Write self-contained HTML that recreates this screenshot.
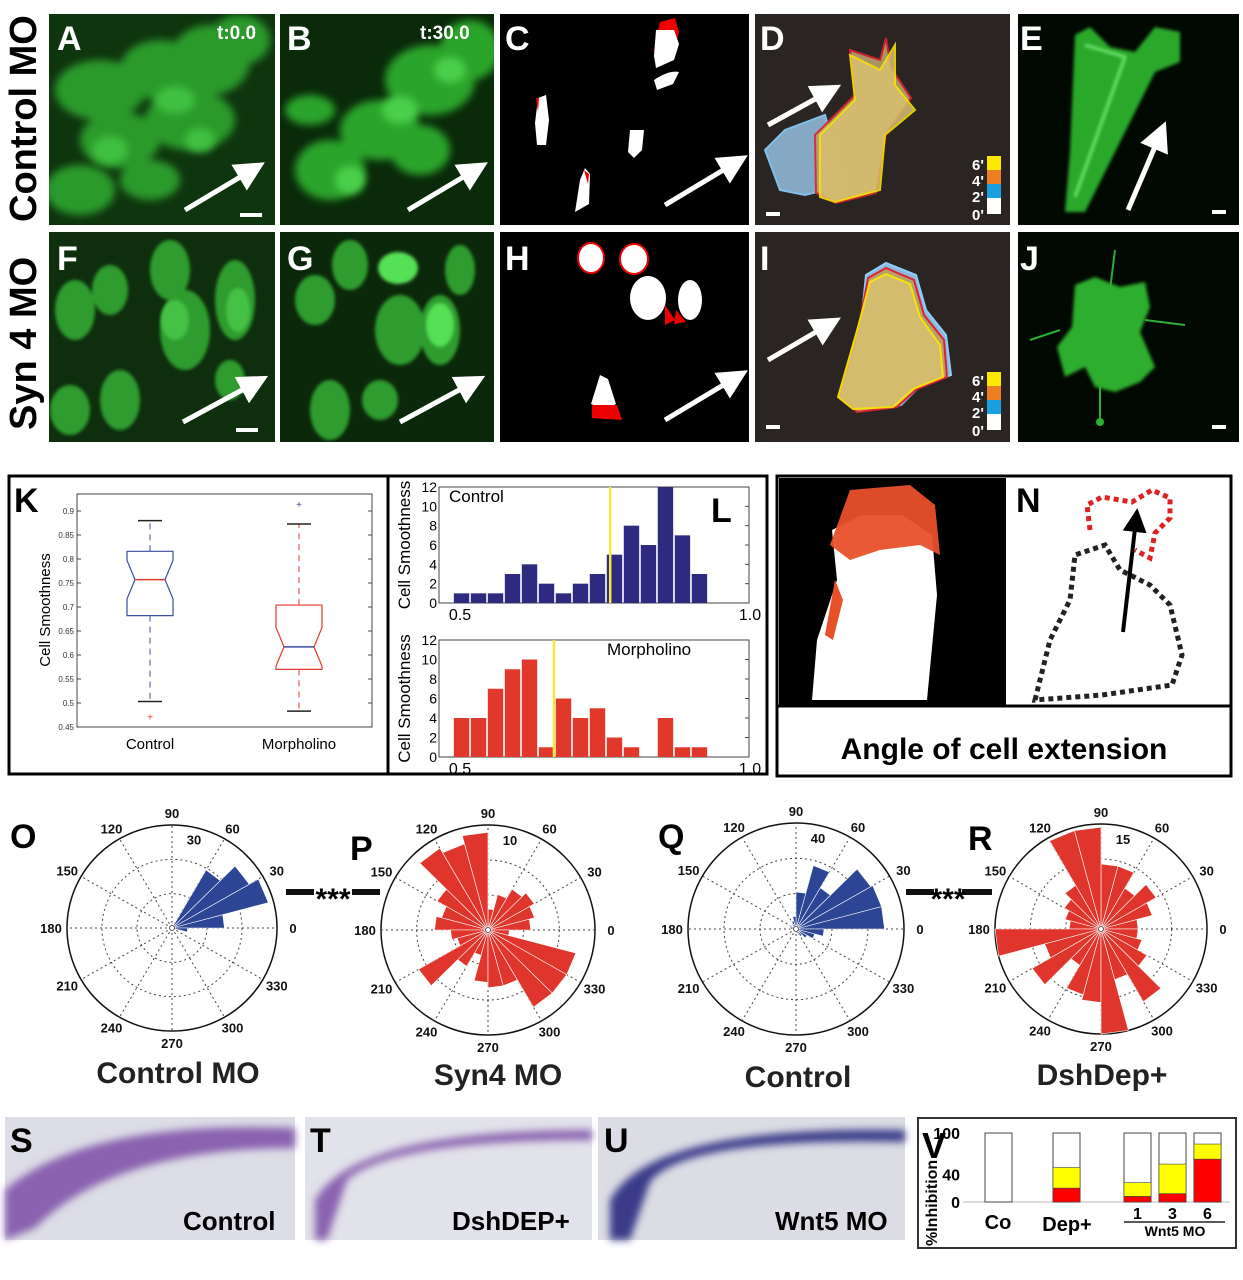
<!DOCTYPE html>
<html><head><meta charset="utf-8"><style>
html,body{margin:0;padding:0;background:#fff;}
svg{display:block;font-family:"Liberation Sans",sans-serif;}
.lbl{font-weight:bold;font-size:34px;}
.pt{font-size:13px;font-weight:bold;fill:#111;}
</style></head><body>
<svg id="fig" width="1243" height="1280" viewBox="0 0 1243 1280" xmlns="http://www.w3.org/2000/svg">
<defs>
<filter id="blur4"><feGaussianBlur stdDeviation="4"/></filter>
<filter id="blur2"><feGaussianBlur stdDeviation="1.5"/></filter>
<marker id="ah" markerWidth="6" markerHeight="6" refX="3" refY="3" orient="auto" markerUnits="strokeWidth"><path d="M0,0 L6,3 L0,6 z" fill="#fff"/></marker>
<marker id="ahb" markerWidth="6" markerHeight="6" refX="3" refY="3" orient="auto" markerUnits="strokeWidth"><path d="M0,0 L6,3 L0,6 z" fill="#000"/></marker>
<clipPath id="cA"><rect x="49" y="14" width="226" height="211"/></clipPath>
<clipPath id="cB"><rect x="280" y="14" width="214" height="211"/></clipPath>
<clipPath id="cF"><rect x="49" y="232" width="226" height="210"/></clipPath>
<clipPath id="cG"><rect x="280" y="232" width="214" height="210"/></clipPath>
</defs>
<rect width="1243" height="1280" fill="#fff"/>

<text transform="translate(36,222) rotate(-90)" font-size="38" font-weight="bold">Control MO</text>
<text transform="translate(36,430) rotate(-90)" font-size="38" font-weight="bold">Syn 4 MO</text>

<g clip-path="url(#cA)">
<rect x="49" y="14" width="226" height="211" fill="#0f350f"/>
<g filter="url(#blur4)" fill="#2a9a2a">
<ellipse cx="100" cy="90" rx="45" ry="30"/><ellipse cx="160" cy="70" rx="40" ry="30"/><ellipse cx="210" cy="60" rx="40" ry="35"/>
<ellipse cx="120" cy="140" rx="40" ry="28"/><ellipse cx="190" cy="120" rx="45" ry="30"/><ellipse cx="80" cy="190" rx="35" ry="25"/>
<ellipse cx="150" cy="180" rx="30" ry="20"/><ellipse cx="240" cy="40" rx="30" ry="25"/></g>
<g filter="url(#blur4)" fill="#40c040"><ellipse cx="110" cy="150" rx="18" ry="14"/><ellipse cx="175" cy="100" rx="20" ry="14"/><ellipse cx="200" cy="140" rx="15" ry="12"/></g>
</g>
<g clip-path="url(#cB)">
<rect x="280" y="14" width="214" height="211" fill="#0a2a0a"/>
<g filter="url(#blur4)" fill="#2ca42c">
<ellipse cx="330" cy="170" rx="35" ry="30"/><ellipse cx="380" cy="130" rx="40" ry="30"/><ellipse cx="430" cy="80" rx="45" ry="35"/>
<ellipse cx="470" cy="50" rx="30" ry="30"/><ellipse cx="310" cy="110" rx="25" ry="15"/><ellipse cx="420" cy="150" rx="30" ry="25"/></g>
<g filter="url(#blur4)" fill="#4cd04c"><ellipse cx="350" cy="180" rx="15" ry="14"/><ellipse cx="400" cy="110" rx="18" ry="14"/><ellipse cx="450" cy="70" rx="16" ry="13"/></g>
</g>
<g>
<rect x="500" y="14" width="249" height="211" fill="#000"/>
<path d="M660,22 l15,-4 l4,14 l-5,20 l-17,8 l-3,-10 z" fill="#e00"/>
<path d="M656,30 l18,0 l5,14 l-5,16 l-18,8 l-2,-12 z" fill="#fff"/>
<path d="M654,80 q15,-10 25,-8 l-6,12 l-16,6 z" fill="#fff"/>
<path d="M538,98 l8,-3 l3,25 l-3,25 l-9,0 l-2,-22 z" fill="#fff"/>
<path d="M536,98 l3,0 l-1,14 z" fill="#e00"/>
<path d="M630,130 l14,0 l-2,20 l-8,8 l-6,-6 z" fill="#fff"/>
<path d="M580,180 l5,-12 l5,6 l-1,30 l-14,8 z" fill="#fff"/>
<path d="M584,170 l5,4 l-1,10 z" fill="#e00"/>
<line x1="665" y1="205" x2="735" y2="163" stroke="#fff" stroke-width="5" marker-end="url(#ah)"/>
</g>
<g>
<rect x="755" y="14" width="255" height="211" fill="#2a2522"/>
<path d="M765,150 l20,-20 l40,-15 l20,70 l-40,10 l-25,-5 z" fill="#8fb8d6" stroke="#8ad0ff" stroke-width="2" opacity="0.9"/>
<path d="M815,135 l40,-40 l-5,-45 l30,10 l6,-22 l5,30 l20,30 l-25,35 l-10,60 l-40,10 l-20,-10 z" fill="#b7a16a" stroke="#d23" stroke-width="2" opacity="0.9"/>
<path d="M820,135 l35,-35 l-5,-45 l30,15 l15,-25 l0,40 l20,25 l-30,25 l-5,55 l-45,12 l-15,-5 z" fill="#d8c070" stroke="#ffe800" stroke-width="2" opacity="0.85"/>
<line x1="768" y1="125" x2="828" y2="92" stroke="#fff" stroke-width="5" marker-end="url(#ah)"/>
<rect x="766" y="212" width="14" height="4" fill="#fff"/>
<rect x="987" y="156" width="14" height="14" fill="#ffe800"/><rect x="987" y="170" width="14" height="14" fill="#ec7f22"/><rect x="987" y="184" width="14" height="14" fill="#1aa0e0"/><rect x="987" y="198" width="14" height="16" fill="#fff"/>
<g fill="#fff" font-size="15" font-weight="bold"><text x="972" y="170">6'</text><text x="972" y="186">4'</text><text x="972" y="202">2'</text><text x="972" y="220">0'</text></g>
</g>
<g>
<rect x="1018" y="14" width="221" height="211" fill="#020802"/>
<path d="M1075,35 l15,-8 l20,20 l25,5 l20,-25 l25,5 l0,30 l-25,10 l-30,60 l-40,80 l-20,0 l5,-60 z" fill="#2ba82b" filter="url(#blur2)"/>
<path d="M1085,45 l40,12 l-50,140" stroke="#6fe86f" stroke-width="3" fill="none" filter="url(#blur2)"/>
<line x1="1128" y1="210" x2="1160" y2="135" stroke="#fff" stroke-width="5" marker-end="url(#ah)"/>
<rect x="1212" y="210" width="14" height="4" fill="#fff"/>
</g>
<g clip-path="url(#cF)">
<rect x="49" y="232" width="226" height="210" fill="#0e2e0e"/>
<g filter="url(#blur2)" fill="#2f9c2f">
<ellipse cx="75" cy="310" rx="20" ry="30"/><ellipse cx="110" cy="290" rx="18" ry="25"/><ellipse cx="170" cy="270" rx="20" ry="30"/>
<ellipse cx="185" cy="330" rx="25" ry="40"/><ellipse cx="235" cy="300" rx="20" ry="40"/><ellipse cx="120" cy="400" rx="20" ry="30"/>
<ellipse cx="70" cy="410" rx="20" ry="25"/><ellipse cx="230" cy="380" rx="15" ry="20"/></g>
<g fill="#45c245" filter="url(#blur2)"><ellipse cx="175" cy="320" rx="14" ry="20"/><ellipse cx="238" cy="310" rx="12" ry="22"/></g>
</g>
<g clip-path="url(#cG)">
<rect x="280" y="232" width="214" height="210" fill="#0b280b"/>
<g filter="url(#blur2)" fill="#2f9c2f">
<ellipse cx="315" cy="300" rx="20" ry="25"/><ellipse cx="350" cy="265" rx="18" ry="25"/><ellipse cx="400" cy="330" rx="25" ry="35"/>
<ellipse cx="440" cy="330" rx="20" ry="35"/><ellipse cx="330" cy="410" rx="20" ry="30"/><ellipse cx="380" cy="400" rx="18" ry="20"/>
<ellipse cx="460" cy="270" rx="15" ry="25"/></g>
<g fill="#55e055" filter="url(#blur2)"><ellipse cx="398" cy="268" rx="20" ry="16"/><ellipse cx="440" cy="325" rx="14" ry="22"/></g>
</g>
<g>
<rect x="500" y="232" width="249" height="210" fill="#000"/>
<ellipse cx="591" cy="258" rx="13" ry="15" fill="#fff" stroke="#e00" stroke-width="2"/>
<ellipse cx="634" cy="259" rx="14" ry="15" fill="#fff" stroke="#e00" stroke-width="2"/>
<ellipse cx="648" cy="298" rx="18" ry="22" fill="#fff"/><path d="M665,305 l10,15 l-10,5 z" fill="#e00"/>
<ellipse cx="690" cy="300" rx="12" ry="20" fill="#fff"/><path d="M676,310 l10,12 l-12,2 z" fill="#e00"/>
<path d="M600,375 l8,4 l8,25 l-10,6 l-15,-6 z" fill="#fff"/><path d="M592,405 l25,0 l5,15 l-30,-2 z" fill="#e00"/>
<line x1="665" y1="420" x2="735" y2="378" stroke="#fff" stroke-width="5" marker-end="url(#ah)"/>
</g>
<g>
<rect x="755" y="232" width="255" height="210" fill="#2a2522"/>
<path d="M866,275 l20,-12 l30,12 l10,35 l20,25 l5,40 l-30,10 l-20,20 l-40,5 l-20,-15 l20,-70 z" fill="#8fb8d6" stroke="#8ad0ff" stroke-width="2"/>
<path d="M868,278 l18,-10 l28,12 l10,35 l20,25 l3,37 l-30,12 l-20,18 l-40,5 l-18,-15 l20,-70 z" fill="#b7a16a" stroke="#d23" stroke-width="2"/>
<path d="M870,282 l16,-8 l24,10 l10,33 l20,28 l3,32 l-30,12 l-20,18 l-40,2 l-15,-12 l20,-70 z" fill="#d8c070" stroke="#ffe800" stroke-width="2" opacity="0.9"/>
<line x1="768" y1="360" x2="828" y2="325" stroke="#fff" stroke-width="5" marker-end="url(#ah)"/>
<rect x="766" y="425" width="14" height="4" fill="#fff"/>
<rect x="987" y="372" width="14" height="14" fill="#ffe800"/><rect x="987" y="386" width="14" height="14" fill="#ec7f22"/><rect x="987" y="400" width="14" height="14" fill="#1aa0e0"/><rect x="987" y="414" width="14" height="16" fill="#fff"/>
<g fill="#fff" font-size="15" font-weight="bold"><text x="972" y="386">6'</text><text x="972" y="402">4'</text><text x="972" y="418">2'</text><text x="972" y="436">0'</text></g>
</g>
<g>
<rect x="1018" y="232" width="221" height="210" fill="#020802"/>
<path d="M1075,285 l20,-8 l25,10 l25,-5 l5,25 l-10,25 l15,35 l-15,15 l-25,10 l-20,-5 l-10,-20 l-20,10 l-8,-30 l15,-20 z" fill="#2eae2e" filter="url(#blur2)"/>
<path d="M1060,330 l-30,10 M1145,320 l40,5 M1110,290 l5,-40 M1100,380 l0,40" stroke="#2eae2e" stroke-width="2"/>
<circle cx="1100" cy="422" r="4" fill="#2eae2e"/>
<rect x="1212" y="425" width="14" height="4" fill="#fff"/>
</g>
<g stroke="#fff" stroke-width="5">
<line x1="185" y1="210" x2="252" y2="170" marker-end="url(#ah)"/>
<line x1="408" y1="210" x2="475" y2="170" marker-end="url(#ah)"/>
<line x1="183" y1="422" x2="255" y2="383" marker-end="url(#ah)"/>
<line x1="400" y1="422" x2="472" y2="383" marker-end="url(#ah)"/>
</g>
<g fill="#fff"><rect x="240" y="213" width="22" height="4"/><rect x="236" y="428" width="22" height="4"/></g>
<g class="lbl" fill="#fff">
<text x="57" y="50">A</text>
<text x="287" y="50">B</text>
<text x="505" y="50">C</text>
<text x="760" y="50">D</text>
<text x="1020" y="50">E</text>
<text x="57" y="270">F</text>
<text x="287" y="270">G</text>
<text x="505" y="270">H</text>
<text x="760" y="270">I</text>
<text x="1020" y="270">J</text>
</g>
<text x="217" y="39" fill="#fff" font-size="19" font-weight="bold">t:0.0</text>
<text x="420" y="39" fill="#fff" font-size="19" font-weight="bold">t:30.0</text>

<rect x="9" y="476" width="758" height="298" fill="none" stroke="#000" stroke-width="3"/>
<line x1="388" y1="476" x2="388" y2="774" stroke="#000" stroke-width="3"/>
<text class="lbl" x="14" y="512" fill="#000">K</text>
<text class="lbl" x="711" y="522" fill="#000">L</text>
<g id="boxplot"></g>
<g id="hist"></g>

<g>
<rect x="777" y="476" width="454" height="300" fill="#fff" stroke="#000" stroke-width="3"/>
<rect x="779" y="478" width="227" height="227" fill="#000"/>
<path d="M812,700 l5,-60 l20,-60 l-5,-50 l30,-15 l40,0 l30,20 l5,60 l-10,105 z" fill="#fff"/>
<path d="M830,545 l20,-55 l60,-5 l25,20 l5,50 l-20,-10 l-40,5 l-30,10 z" fill="#e8502a" opacity="0.95"/>
<path d="M835,580 l8,20 l-10,40 l-8,-5 z" fill="#e8502a"/>
<rect x="1008" y="478" width="221" height="227" fill="#fff"/>
<line x1="777" y1="706" x2="1231" y2="706" stroke="#000" stroke-width="3"/>
<path d="M1035,700 l15,-60 l20,-40 l5,-45 l30,-10 l15,25 l30,15 l20,20 l12,50 l-10,30 l-70,10 z" fill="none" stroke="#222" stroke-width="5" stroke-dasharray="5,4"/>
<path d="M1090,530 l-3,-25 l15,-8 l30,5 l20,-12 l18,8 l0,20 l-15,15 l-5,25 l-15,-8" fill="none" stroke="#d22" stroke-width="5" stroke-dasharray="5,4"/>
<line x1="1123" y1="632" x2="1136" y2="520" stroke="#000" stroke-width="4" marker-end="url(#ahb)"/>
<text class="lbl" x="782" y="512" fill="#000">M</text>
<text class="lbl" x="1016" y="512" fill="#000">N</text>
<text x="1004" y="759" text-anchor="middle" font-size="30" font-weight="bold">Angle of cell extension</text>
</g>

<g id="polar"></g>
<g class="lbl" fill="#000">
<text x="10" y="848">O</text>
<text x="350" y="860">P</text>
<text x="658" y="848">Q</text>
<text x="968" y="850">R</text>
</g>
<g font-size="30" font-weight="bold" text-anchor="middle" fill="#222">
<text x="178" y="1083">Control MO</text>
<text x="498" y="1085">Syn4 MO</text>
<text x="798" y="1087">Control</text>
<text x="1102" y="1085">DshDep+</text>
</g>
<g>
<rect x="286" y="889" width="28" height="6" fill="#111"/><rect x="352" y="889" width="28" height="6" fill="#111"/>
<text x="333" y="909" text-anchor="middle" font-size="30" font-weight="bold">***</text>
<rect x="906" y="889" width="28" height="6" fill="#111"/><rect x="962" y="889" width="30" height="6" fill="#111"/>
<text x="948" y="909" text-anchor="middle" font-size="30" font-weight="bold">***</text>
</g>

<g>
<rect x="5" y="1117" width="290" height="123" fill="#dcdde6"/>
<path d="M5,1190 q80,-70 290,-62 l0,20 q-180,0 -260,80 l-30,12 z" fill="#8a62b0" filter="url(#blur4)"/>
<text class="lbl" x="10" y="1152" fill="#000">S</text>
<text x="183" y="1230" font-size="26" font-weight="bold">Control</text>
</g>
<g>
<rect x="305" y="1117" width="287" height="123" fill="#e2e2ea"/>
<path d="M315,1200 q40,-70 277,-70 l0,10 q-200,0 -245,40 l-20,60 l-12,0 z" fill="#8a62b0" filter="url(#blur4)"/>
<text class="lbl" x="310" y="1152" fill="#000">T</text>
<text x="452" y="1230" font-size="26" font-weight="bold">DshDEP+</text>
</g>
<g>
<rect x="598" y="1117" width="307" height="123" fill="#dcdde4"/>
<path d="M610,1200 q40,-75 295,-70 l0,12 q-220,-5 -255,40 l-20,58 l-20,0 z" fill="#3a3a8a" filter="url(#blur4)"/>
<text class="lbl" x="604" y="1152" fill="#000">U</text>
<text x="775" y="1230" font-size="26" font-weight="bold">Wnt5 MO</text>
</g>

<rect x="918" y="1118" width="318" height="130" fill="#fff" stroke="#333" stroke-width="2"/>
<g id="vchart"></g>
</svg>
<script>
var NS="http://www.w3.org/2000/svg";
function mk(p,tag,at,txt){var e=document.createElementNS(NS,tag);for(var k in at)e.setAttribute(k,at[k]);if(txt!==undefined)e.textContent=txt;p.appendChild(e);return e;}

/* ---------- K boxplot ---------- */
var boxGroups=["Control","Morpholino"];
var boxLow=[0.503,0.483];
var boxQ1=[0.682,0.570];
var boxMed=[0.757,0.617];
var boxQ3=[0.816,0.704];
var boxHigh=[0.880,0.873];
var boxOutlier=[0.470,0.912];
var boxTicks=[0.45,0.5,0.55,0.6,0.65,0.7,0.75,0.8,0.85,0.9];

/* ---------- L histograms ---------- */
var histControl=[1,1,1,3,4,2,1,2,3,5,8,6,12,7,3];
var histMorpholino=[4,4,7,9,10,1,6,4,5,2,1,0,4,1,1];
var histBinStart=0.488;
var histBinWidth=0.0293;
var histMeanControl=0.759;
var histMeanMorph=0.662;
var histYTicks=[0,2,4,6,8,10,12];

/* ---------- Polar rose plots (15° bins from 0°) ---------- */
var roseO=[0.50,0.95,0.85,0.65,0,0,0,0,0,0,0,0,0,0,0,0,0,0,0,0,0,0,0,0.15];
var roseP=[0.40,0.45,0.50,0.45,0.35,0.20,0.93,0.85,0.90,0.55,0.45,0.50,0.35,0.30,0.75,0.40,0.25,0.50,0.55,0.55,0.85,0.85,0.85,0.20];
var roseQ=[0.82,0.82,0.80,0.45,0.62,0.35,0.12,0.08,0.05,0.04,0.06,0.05,0.03,0.03,0.02,0.02,0.02,0.03,0.04,0.05,0.08,0.12,0.18,0.26];
var roseR=[0.35,0.50,0.60,0.45,0.62,0.62,0.97,0.97,0.48,0.40,0.35,0.30,1.00,0.55,0.75,0.40,0.65,0.70,1.00,0.50,0.80,0.50,0.40,0.35];
var roseRingLabels=["30","10","40","15"];
var angleLabels=["0","30","60","90","120","150","180","210","240","270","300","330"];

/* ---------- V stacked bars ---------- */
var vCategories=["Co","Dep+","1","3","6"];
var vRed=[0,20,8,12,62];
var vYellow=[0,30,20,43,22];
var vYTicks=[0,40,100];

(function(){
 var g=document.getElementById("boxplot");
 var x0=77,x1=372,yTop=494,yBot=727;
 function ky(v){return 727-(v-0.45)*480;}
 function kx(i){return 150+i*149;}
 mk(g,"rect",{x:x0,y:yTop,width:x1-x0,height:yBot-yTop,fill:"none",stroke:"#444","stroke-width":1});
 boxTicks.forEach(function(t){var y=ky(t);mk(g,"line",{x1:x0,y1:y,x2:x0+4,y2:y,stroke:"#444"});mk(g,"line",{x1:x1,y1:y,x2:x1-4,y2:y,stroke:"#444"});
  var tx=mk(g,"text",{x:x0-3,y:y+3,"font-size":8,"text-anchor":"end",fill:"#333"},String(t));
  });
 var yt=mk(g,"text",{transform:"translate(50,610) rotate(-90)","font-size":15,"text-anchor":"middle"},"Cell Smoothness");
 
 var cols=["#3a4ea0","#e23a2a"],medc=["#e23a2a","#3a4ea0"];
 boxGroups.forEach(function(name,i){
  var cx=kx(i),h=23,n=8;
  var gg=mk(g,"g",{});
  
  mk(gg,"line",{x1:cx,y1:ky(boxQ3[i]),x2:cx,y2:ky(boxHigh[i]),stroke:cols[i],"stroke-dasharray":"6,5"});
  mk(gg,"line",{x1:cx,y1:ky(boxQ1[i]),x2:cx,y2:ky(boxLow[i]),stroke:cols[i],"stroke-dasharray":"6,5"});
  mk(gg,"line",{x1:cx-12,y1:ky(boxHigh[i]),x2:cx+12,y2:ky(boxHigh[i]),stroke:"#222","stroke-width":1.5});
  mk(gg,"line",{x1:cx-12,y1:ky(boxLow[i]),x2:cx+12,y2:ky(boxLow[i]),stroke:"#222","stroke-width":1.5});
  var nt=(boxQ3[i]-boxQ1[i])*0.3;
  var pts=[[cx-h,ky(boxQ1[i])],[cx-h,ky(boxMed[i]-nt)],[cx-h+n,ky(boxMed[i])],[cx-h,ky(boxMed[i]+nt)],[cx-h,ky(boxQ3[i])],[cx+h,ky(boxQ3[i])],[cx+h,ky(boxMed[i]+nt)],[cx+h-n,ky(boxMed[i])],[cx+h,ky(boxMed[i]-nt)],[cx+h,ky(boxQ1[i])]];
  mk(gg,"polygon",{points:pts.map(function(p){return p.join(",");}).join(" "),fill:"none",stroke:cols[i],"stroke-width":1.2});
  mk(gg,"line",{x1:cx-h+n,y1:ky(boxMed[i]),x2:cx+h-n,y2:ky(boxMed[i]),stroke:medc[i],"stroke-width":1.5});
  mk(gg,"text",{x:cx,y:ky(boxOutlier[i])+3,"font-size":10,"text-anchor":"middle",fill:medc[i]},"+");
  var xl=mk(g,"text",{x:cx,y:749,"font-size":15,"text-anchor":"middle"},name);
  
 });
})();

(function(){
 var g=document.getElementById("hist");
 function hx(v){return 460+(v-0.5)*580;}
 function panel(vals,yTop,yBot,color,mean,title,tx,name){
  var gg=mk(g,"g",{});
  
  function hy(v){return yBot-v/12*(yBot-yTop);}
  mk(gg,"rect",{x:439,y:yTop,width:310,height:yBot-yTop,fill:"none",stroke:"#444"});
  histYTicks.forEach(function(t){mk(gg,"text",{x:437,y:hy(t)+5,"font-size":14,"text-anchor":"end"},String(t));mk(gg,"line",{x1:749,y1:hy(t),x2:745,y2:hy(t),stroke:"#444"});});
  vals.forEach(function(v,i){if(!v)return;var a=hx(histBinStart+i*histBinWidth),b=hx(histBinStart+(i+1)*histBinWidth);
   var r=mk(gg,"rect",{x:a+0.8,y:hy(v),width:b-a-1.6,height:hy(0)-hy(v),fill:color});
   });
  mk(gg,"line",{x1:hx(mean),y1:yTop,x2:hx(mean),y2:yBot,stroke:"#f4e83a","stroke-width":2.5});
  mk(gg,"text",{x:tx,y:yTop+15,"font-size":17},title);
  mk(gg,"text",{x:hx(0.5),y:yBot+17,"font-size":16,"text-anchor":"middle"},"0.5");
  mk(gg,"text",{x:hx(1.0),y:yBot+17,"font-size":16,"text-anchor":"middle"},"1.0");
  mk(gg,"text",{transform:"translate(410,"+((yTop+yBot)/2)+") rotate(-90)","font-size":17,"text-anchor":"middle"},"Cell Smoothness");
 }
 panel(histControl,487,603,"#2e2a80",histMeanControl,"Control",449,"histogram-control");
 panel(histMorpholino,640,757,"#e2382c",histMeanMorph,"Morpholino",607,"histogram-morpholino");
})();

(function(){
 var g=document.getElementById("polar");
 function rose(cx,cy,rx,ry,vals,color,ringLbl,name){
  var gg=mk(g,"g",{});
  
  mk(gg,"ellipse",{cx:cx,cy:cy,rx:rx,ry:ry,fill:"#fff",stroke:"#111","stroke-width":1.5});
  [1/3,2/3].forEach(function(f){mk(gg,"ellipse",{cx:cx,cy:cy,rx:rx*f,ry:ry*f,fill:"none",stroke:"#444","stroke-dasharray":"2,3"});});
  for(var k=0;k<12;k++){var a=k*30*Math.PI/180;mk(gg,"line",{x1:cx,y1:cy,x2:cx+rx*Math.cos(a),y2:cy-ry*Math.sin(a),stroke:"#444","stroke-dasharray":"2,3"});}
  vals.forEach(function(v,i){if(v<=0)return;var a0=i*15*Math.PI/180,a1=(i+1)*15*Math.PI/180;
   var p=mk(gg,"path",{d:"M"+cx+","+cy+" L"+(cx+rx*v*Math.cos(a0))+","+(cy-ry*v*Math.sin(a0))+" L"+(cx+rx*v*Math.cos(a1))+","+(cy-ry*v*Math.sin(a1))+" Z",fill:color,stroke:"#fff","stroke-width":0.6});
   });
  mk(gg,"circle",{cx:cx,cy:cy,r:2.5,fill:"#fff",stroke:"#333","stroke-width":0.8});
  angleLabels.forEach(function(t,k){var a=k*30*Math.PI/180;
   var lt=mk(gg,"text",{x:cx+(rx+16)*Math.cos(a),y:cy-(ry+12)*Math.sin(a)+5,"text-anchor":"middle","class":"pt"},t);
   });
  mk(gg,"text",{x:cx+22,y:cy-ry*0.85+4,"text-anchor":"middle","class":"pt"},ringLbl);
 }
 rose(172,928,105,103,roseO,"#2c4594",roseRingLabels[0],"rose-control-mo");
 rose(488,930,107,105,roseP,"#e0352c",roseRingLabels[1],"rose-syn4-mo");
 rose(796,929,108,106,roseQ,"#2c4594",roseRingLabels[2],"rose-control");
 rose(1101,929,106,105,roseR,"#e0352c",roseRingLabels[3],"rose-dshdep");
})();

(function(){
 var g=document.getElementById("vchart");
 function vy(v){return 1202-v*0.69;}
 var xs=[985,1053,1124,1159,1194],w=27;
 vYTicks.forEach(function(t){var l=mk(g,"text",{x:960,y:vy(t)+6,"text-anchor":"end","font-size":16,"font-weight":"bold"},String(t));
  });
 mk(g,"line",{x1:963,y1:1202,x2:1230,y2:1202,stroke:"#bbb"});
 vCategories.forEach(function(c,i){var x=xs[i];
  var b=mk(g,"rect",{x:x,y:vy(100),width:w,height:vy(0)-vy(100),fill:"#fff",stroke:"#444"});
  
  if(vYellow[i]){var y=mk(g,"rect",{x:x,y:vy(vRed[i]+vYellow[i]),width:w,height:vYellow[i]*0.69,fill:"#ffff00",stroke:"#444","stroke-width":0.6});
   }
  if(vRed[i]){var r=mk(g,"rect",{x:x,y:vy(vRed[i]),width:w,height:vRed[i]*0.69,fill:"#ff0000",stroke:"#444","stroke-width":0.6});
   }
 });
 mk(g,"text",{x:922,y:1158,"font-size":36,"font-weight":"bold"},"V");
 mk(g,"text",{transform:"translate(937,1246) rotate(-90)","font-size":16,"font-weight":"bold"},"%Inhibition");
 mk(g,"text",{x:998,y:1229,"font-size":20,"font-weight":"bold","text-anchor":"middle"},"Co");
 mk(g,"text",{x:1067,y:1231,"font-size":20,"font-weight":"bold","text-anchor":"middle"},"Dep+");
 ["1","3","6"].forEach(function(t,k){mk(g,"text",{x:xs[k+2]+w/2,y:1219,"font-size":16,"font-weight":"bold","text-anchor":"middle"},t);});
 mk(g,"line",{x1:1124,y1:1222,x2:1225,y2:1222,stroke:"#222","stroke-width":1.5});
 mk(g,"text",{x:1175,y:1236,"font-size":14,"font-weight":"bold","text-anchor":"middle"},"Wnt5 MO");
})();
</script>
</body></html>
